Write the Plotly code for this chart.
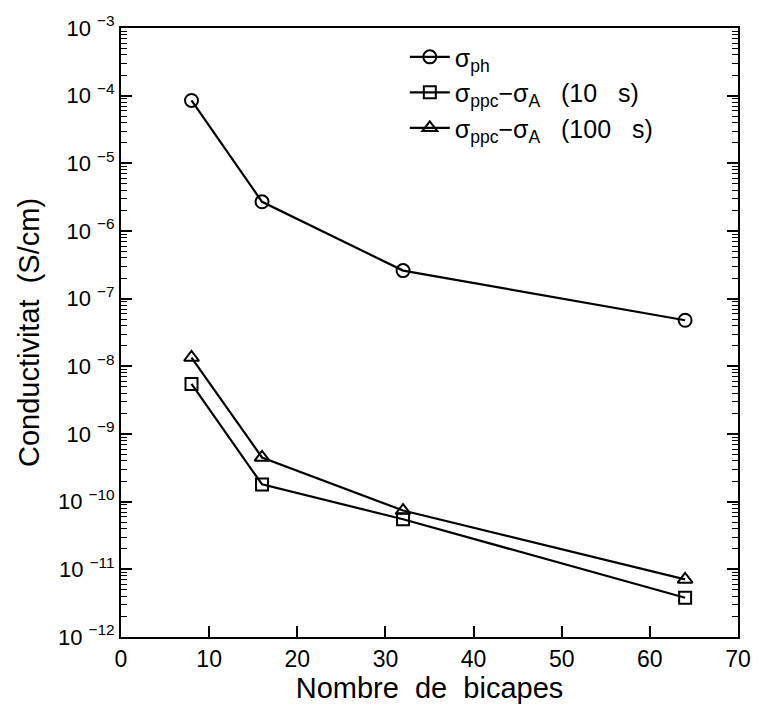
import plotly.graph_objects as go

# Data
bicapes = [8, 16, 32, 64]
sigma_ph = [8.5e-5, 2.7e-6, 2.6e-7, 4.8e-8]
sigma_ppc_10s = [5.5e-9, 1.8e-10, 5.5e-11, 3.8e-12]
sigma_ppc_100s = [1.35e-8, 4.5e-10, 7.4e-11, 7.1e-12]

SP = "\u00a0\u00a0\u00a0"
names = ["σ<sub>ph</sub>",
         "σ<sub>ppc</sub>−σ<sub>A</sub>" + SP + "(10" + SP + "s)",
         "σ<sub>ppc</sub>−σ<sub>A</sub>" + SP + "(100" + SP + "s)"]
exponents = list(range(-12, -2))
x_ticks = [0, 10, 20, 30, 40, 50, 60, 70]

FONT = "Liberation Sans, Arial, sans-serif"

fig = go.Figure()
series = [(sigma_ph, "circle-open", 13), (sigma_ppc_10s, "square-open", 12),
          (sigma_ppc_100s, "triangle-up-open", 13)]
for (vals, sym, sz), nm in zip(series, names):
    fig.add_trace(go.Scatter(
        x=bicapes, y=vals, mode="lines+markers", name=nm,
        line=dict(color="black", width=2.2),
        marker=dict(symbol=sym, size=sz, color="black", line=dict(color="black", width=2)),
    ))

minor_vals = [m * 10.0 ** e for e in exponents[:-1] for m in range(2, 10)]

fig.update_layout(
    width=763, height=710,
    margin=dict(l=121, r=16, t=16, b=68),
    paper_bgcolor="white", plot_bgcolor="white",
    font=dict(family=FONT, color="black", size=22),
    showlegend=True,
    legend=dict(x=0.46, y=0.99, xanchor="left", yanchor="top",
                bgcolor="rgba(0,0,0,0)", font=dict(size=25, family=FONT),
                tracegroupgap=0, itemwidth=40),
    xaxis=dict(range=[0, 70], tickvals=x_ticks, ticktext=[str(v) for v in x_ticks],
               ticks="inside", ticklen=11, tickwidth=2, tickcolor="black",
               showline=True, linewidth=2, linecolor="black", mirror=True,
               showgrid=False, zeroline=False,
               tickfont=dict(size=23, family=FONT),
               title=dict(text="Nombre\u00a0\u00a0de\u00a0\u00a0bicapes",
                          font=dict(size=29, family=FONT), standoff=6)),
    yaxis=dict(type="log", range=[-12, -3],
               tickvals=[10.0 ** e for e in exponents],
               ticktext=["10\u00a0<sup>−%d</sup>" % (-e) for e in exponents],
               ticks="inside", ticklen=11, tickwidth=2, tickcolor="black",
               minor=dict(tickvals=minor_vals, ticks="inside", ticklen=6,
                          tickwidth=1, tickcolor="black", showgrid=False),
               showline=True, linewidth=2, linecolor="black", mirror="ticks",
               showgrid=False, zeroline=False,
               tickfont=dict(size=22, family=FONT),
               title=dict(text="Conductivitat\u00a0\u00a0(S/cm)",
                          font=dict(size=29, family=FONT), standoff=10)),
)

fig.write_html("out.html")
